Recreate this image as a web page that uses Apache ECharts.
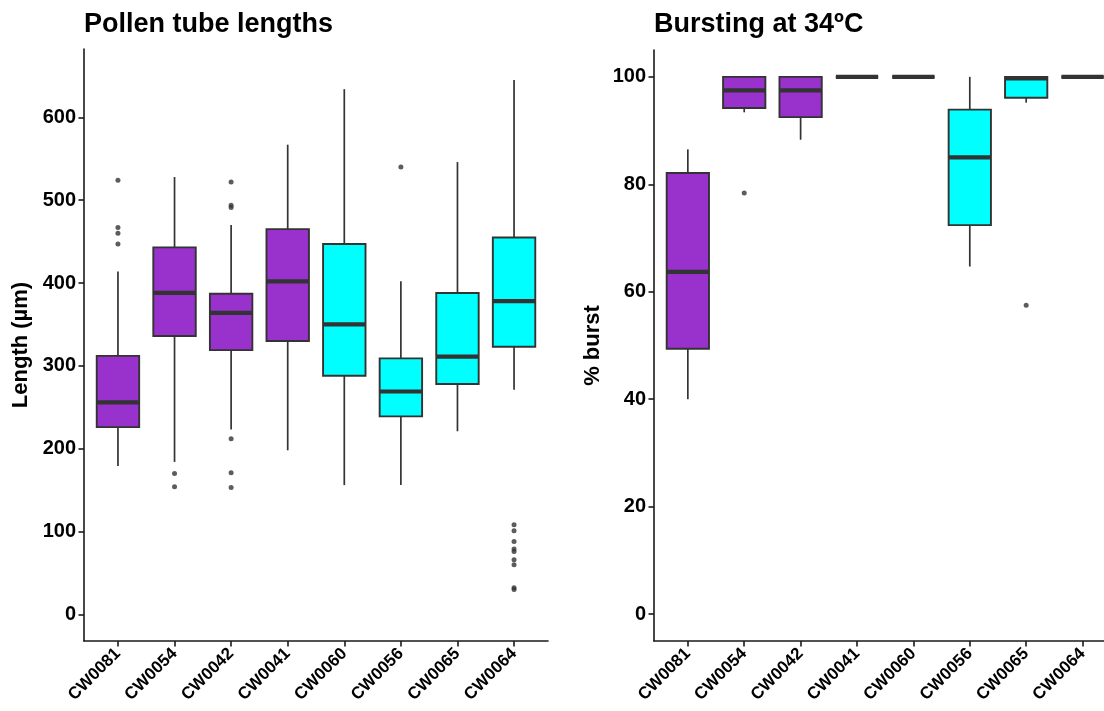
<!DOCTYPE html>
<html>
<head>
<meta charset="utf-8">
<script src="https://cdn.jsdelivr.net/npm/echarts@6/dist/echarts.min.js"></script>
<style>html,body{margin:0;padding:0;background:#fff}#c{width:1104px;height:711px}</style>
</head>
<body>
<div id="c"></div>
<script>
// ---------- data ----------
const categories = ['CW0081','CW0054','CW0042','CW0041','CW0060','CW0056','CW0065','CW0064'];
const groupOf = ['A','A','A','A','B','B','B','B'];

// [min (lower whisker), Q1, median, Q3, max (upper whisker)]
const lengthStats = [
  [179, 226, 256, 312, 414],
  [184, 336, 388, 443, 528],
  [223, 319, 364, 387, 470],
  [198, 330, 402, 465, 567],
  [156, 288, 350, 447, 634],
  [156, 239, 269, 309, 402],
  [221, 278, 311, 388, 546],
  [271, 323, 378, 455, 645]
];
const lengthOutliers = [
  [524, 467, 460, 447],
  [170, 154],
  [522, 494, 491, 212, 171, 153],
  [],
  [],
  [540],
  [],
  [108, 101, 88, 79, 76, 66, 60, 32, 30]
];
const burstStats = [
  [40.0, 49.4, 63.7, 82.1, 86.5],
  [93.4, 94.2, 97.5, 100, 100],
  [88.3, 92.5, 97.5, 100, 100],
  [100, 100, 100, 100, 100],
  [100, 100, 100, 100, 100],
  [64.7, 72.4, 85.0, 93.9, 100],
  [95.2, 96.1, 99.7, 100, 100],
  [100, 100, 100, 100, 100]
];
const burstOutliers = [
  [],
  [78.4],
  [],
  [],
  [],
  [],
  [57.5],
  []
];
const lengthTicks = [0, 100, 200, 300, 400, 500, 600];
const burstTicks = [0, 20, 40, 60, 80, 100];

// ---------- styles ----------
const groupColors = { A: '#9932CC', B: '#00FFFF' };
const ink = '#333333';
const FONT = '"Liberation Sans", Arial, sans-serif';

function boxData(stats) {
  return stats.map((s, i) => [i + 1].concat(s));
}
function outlierData(outs) {
  const d = [];
  outs.forEach((arr, i) => arr.forEach(v => d.push([i + 1, v])));
  return d;
}
function renderBox(params, api) {
  const x = api.value(0);
  const lo = api.coord([x, api.value(1)]);
  const q1 = api.coord([x, api.value(2)]);
  const md = api.coord([x, api.value(3)]);
  const q3 = api.coord([x, api.value(4)]);
  const hi = api.coord([x, api.value(5)]);
  const bw = api.size([0.75, 0])[0];
  const cx = md[0];
  const fill = groupColors[groupOf[params.dataIndex]];
  return {
    type: 'group',
    children: [
      { type: 'line', shape: { x1: cx, y1: hi[1], x2: cx, y2: q3[1] }, style: { stroke: ink, lineWidth: 1.7 } },
      { type: 'line', shape: { x1: cx, y1: q1[1], x2: cx, y2: lo[1] }, style: { stroke: ink, lineWidth: 1.7 } },
      { type: 'rect', shape: { x: cx - bw / 2, y: q3[1], width: bw, height: q1[1] - q3[1] }, style: { fill: fill, stroke: ink, lineWidth: 1.9 } },
      { type: 'line', shape: { x1: cx - bw / 2, y1: md[1], x2: cx + bw / 2, y2: md[1] }, style: { stroke: ink, lineWidth: 4.2 } }
    ]
  };
}

const lineCol = '#1a1a1a';
function xAxisCfg(gridIndex, max) {
  return {
    type: 'value', gridIndex: gridIndex, min: 0.4, max: max,
    axisLine: { show: true, onZero: false, lineStyle: { color: lineCol, width: 1.6 } },
    axisTick: { show: true, customValues: categories.map((c, i) => i + 1), length: 5.5, lineStyle: { color: lineCol, width: 1.6 } },
    axisLabel: {
      customValues: categories.map((c, i) => i + 1),
      formatter: v => categories[Math.round(v) - 1] || '',
      rotate: 45, margin: 10, fontFamily: FONT, fontWeight: 'bold', fontSize: 17, color: '#000',
      hideOverlap: false
    },
    splitLine: { show: false }
  };
}
function yAxisCfg(gridIndex, min, max, ticks, name, gap) {
  return {
    type: 'value', gridIndex: gridIndex, min: min, max: max,
    name: name, nameLocation: 'middle', nameGap: gap,
    nameTextStyle: { fontFamily: FONT, fontWeight: 'bold', fontSize: 22, color: '#000' },
    axisLine: { show: true, onZero: false, lineStyle: { color: lineCol, width: 1.6 } },
    axisTick: { show: true, customValues: ticks, length: 5.5, lineStyle: { color: lineCol, width: 1.6 } },
    axisLabel: { customValues: ticks, margin: 8, fontFamily: FONT, fontWeight: 'bold', fontSize: 20, color: '#000' },
    splitLine: { show: false }
  };
}

const chart = echarts.init(document.getElementById('c'), null, { renderer: 'canvas' });
chart.setOption({
  backgroundColor: '#ffffff',
  animation: false,
  title: [
    { text: 'Pollen tube lengths', left: 84, top: 11, padding: 0, textStyle: { fontFamily: FONT, fontWeight: 'bold', fontSize: 27, color: '#000' } },
    { text: 'Bursting at 34ºC', left: 654, top: 11, padding: 0, textStyle: { fontFamily: FONT, fontWeight: 'bold', fontSize: 27, color: '#000' } }
  ],
  grid: [
    { left: 84, top: 49, width: 464, height: 592, containLabel: false },
    { left: 654, top: 50, width: 450, height: 591, containLabel: false }
  ],
  xAxis: [xAxisCfg(0, 8.6), xAxisCfg(1, 8.38)],
  yAxis: [
    yAxisCfg(0, -32.2, 682.5, lengthTicks, 'Length (µm)', 52),
    yAxisCfg(1, -5, 105, burstTicks, '% burst', 50)
  ],
  series: [
    { type: 'custom', xAxisIndex: 0, yAxisIndex: 0, renderItem: renderBox, data: boxData(lengthStats), clip: false },
    { type: 'scatter', xAxisIndex: 0, yAxisIndex: 0, data: outlierData(lengthOutliers), symbolSize: 5, itemStyle: { color: ink } },
    { type: 'custom', xAxisIndex: 1, yAxisIndex: 1, renderItem: renderBox, data: boxData(burstStats), clip: false },
    { type: 'scatter', xAxisIndex: 1, yAxisIndex: 1, data: outlierData(burstOutliers), symbolSize: 5, itemStyle: { color: ink } }
  ]
});
</script>
</body>
</html>
